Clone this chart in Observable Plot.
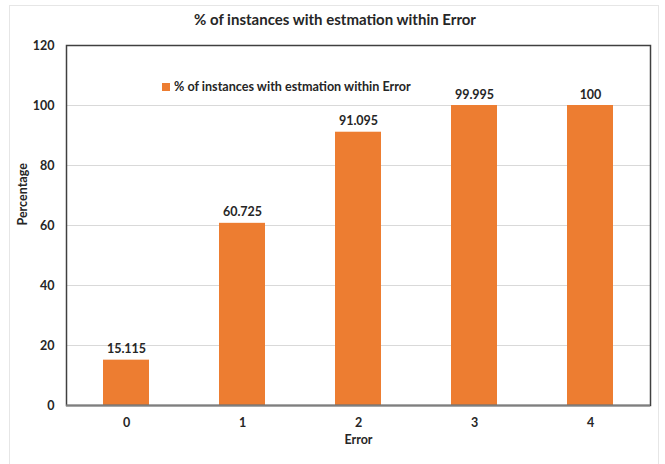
<!DOCTYPE html>
<html>
<head>
<meta charset="utf-8">
<script src="https://cdn.jsdelivr.net/npm/d3@7"></script>
<script src="https://cdn.jsdelivr.net/npm/@observablehq/plot@0.6"></script>
<style>
  html, body { margin: 0; padding: 0; background: #fff; }
  #wrap { position: relative; width: 665px; height: 464px; font-family: Lato, "Open Sans", sans-serif; color: #262626; }
  #border { position: absolute; left: 9px; top: 5px; width: 650px; height: 460px; border: 1px solid #e6e6e6; box-sizing: border-box; }
  #title { position: absolute; left: 0; width: 670px; top: 10px; text-align: center; font-weight: bold; font-size: 15px; }
  #legend { position: absolute; left: 162px; top: 79px; font-weight: bold; font-size: 12.6px; display: flex; align-items: center; }
  #legend .sw { width: 8px; height: 8px; background: #ED7D31; margin-right: 4px; }
  #chart { position: absolute; left: 0; top: 0; }
</style>
</head>
<body>
<div id="wrap">
  <div id="border"></div>
  <div id="chart"></div>
  <div id="title"></div>
  <div id="legend"><div class="sw"></div><span id="legtxt"></span></div>
</div>
<script>
const titleText = "% of instances with estmation within Error";
const seriesName = "% of instances with estmation within Error";
const xTitle = "Error";
const yTitle = "Percentage";
const categories = ["0", "1", "2", "3", "4"];
const values = [15.115, 60.725, 91.095, 99.995, 100];
const labels = ["15.115", "60.725", "91.095", "99.995", "100"];
const yTicks = [0, 20, 40, 60, 80, 100, 120];
const gridTicks = [20, 40, 60, 80, 100];

const data = categories.map((c, i) => ({cat: c, value: values[i], label: labels[i]}));

document.getElementById("title").textContent = titleText;
document.getElementById("legtxt").textContent = seriesName;

const plot = Plot.plot({
  width: 665,
  height: 464,
  marginLeft: 66,
  marginRight: 15,
  marginTop: 45,
  marginBottom: 59,
  style: {fontFamily: "Lato, 'Open Sans', sans-serif", fontWeight: "bold", fontSize: "12px", color: "#262626", background: "transparent"},
  x: {domain: categories, paddingInner: 0.6, paddingOuter: 0.3, label: null},
  y: {domain: [0, 120], label: null},
  marks: [
    Plot.gridY(gridTicks, {stroke: "#d9d9d9", strokeOpacity: 1, strokeWidth: 1}),
    Plot.barY(data, {x: "cat", y: "value", fill: "#ED7D31"}),
    Plot.text(data, {x: "cat", y: "value", text: "label", dy: -11, fontWeight: "bold", fontSize: 12.5, fill: "#262626"}),
    Plot.axisY(yTicks, {tickSize: 0, tickPadding: 12, fontWeight: "bold", fontSize: 12.5, label: null}),
    Plot.axisX({tickSize: 0, tickPadding: 13, fontWeight: "bold", fontSize: 12.5, label: null}),
    Plot.text([xTitle], {text: d => d, frameAnchor: "bottom", dy: 38, fontWeight: "bold", fontSize: 12.5, fill: "#262626"}),
    Plot.text([yTitle], {text: d => d, frameAnchor: "left", dx: -44, rotate: -90, fontWeight: "bold", fontSize: 12.5, fill: "#262626"}),
    Plot.frame({stroke: "#404040", strokeWidth: 1.5}),
    Plot.ruleY([0], {stroke: "#7f7f7f", strokeWidth: 2})
  ]
});
document.getElementById("chart").appendChild(plot);
</script>
</body>
</html>
